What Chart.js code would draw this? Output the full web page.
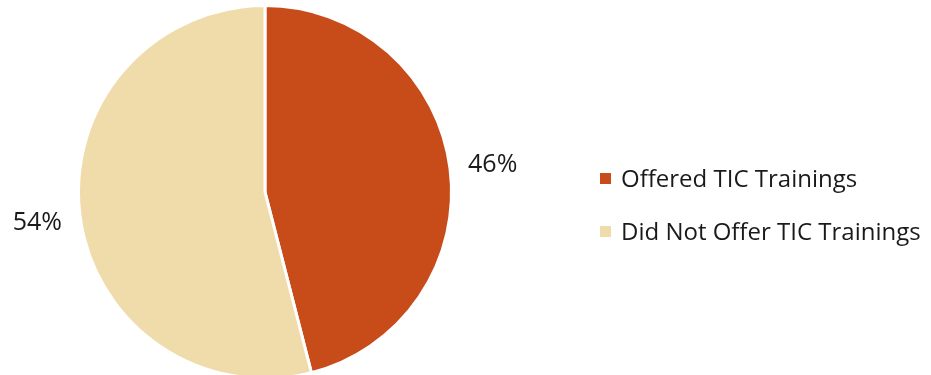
<!DOCTYPE html>
<html>
<head>
<meta charset="utf-8">
<script src="https://cdn.jsdelivr.net/npm/chart.js@4"></script>
<style>
  html, body { margin: 0; padding: 0; background: #ffffff; overflow: hidden; }
  #wrap { width: 931px; height: 375px; position: relative; overflow: hidden; }
</style>
</head>
<body>
<div id="wrap"><canvas id="c" width="931" height="380"></canvas></div>
<script>
const categories = ['Offered TIC Trainings', 'Did Not Offer TIC Trainings'];
const shares = [46, 54];
const sliceColors = ['#C84B1A', '#F0DCAA'];
const FONT = '"Open Sans", Lato, sans-serif';

// Percent labels placed just outside each slice, along its mid-angle
const outsideLabels = {
  id: 'outsideLabels',
  afterDatasetsDraw(chart) {
    const ctx = chart.ctx;
    const meta = chart.getDatasetMeta(0);
    ctx.save();
    ctx.font = '25px ' + FONT;
    ctx.fillStyle = '#1a1a1a';
    ctx.textAlign = 'center';
    ctx.textBaseline = 'alphabetic';
    meta.data.forEach((arc, i) => {
      const mid = (arc.startAngle + arc.endAngle) / 2;
      const d = arc.outerRadius + 43;
      ctx.fillText(shares[i] + '%', arc.x + Math.cos(mid) * d, arc.y + Math.sin(mid) * d + 9);
    });
    ctx.restore();
  }
};

// Legend to the right of the pie
const sideLegend = {
  id: 'sideLegend',
  afterDraw(chart) {
    const ctx = chart.ctx;
    ctx.save();
    ctx.font = '24px ' + FONT;
    ctx.textBaseline = 'alphabetic';
    ctx.textAlign = 'left';
    const x0 = 600, baselines = [187, 240];
    categories.forEach((name, i) => {
      ctx.fillStyle = sliceColors[i];
      ctx.fillRect(x0, baselines[i] - 14, 11, 11);
      ctx.fillStyle = '#1a1a1a';
      ctx.fillText(name, x0 + 21, baselines[i]);
    });
    ctx.restore();
  }
};

new Chart(document.getElementById('c'), {
  type: 'pie',
  data: {
    labels: categories,
    datasets: [{
      data: shares,
      backgroundColor: sliceColors,
      borderColor: '#ffffff',
      borderWidth: 3
    }]
  },
  options: {
    responsive: false,
    animation: false,
    layout: { padding: { left: 77, right: 478, top: 4, bottom: 0 } },
    plugins: { legend: { display: false }, tooltip: { enabled: false } }
  },
  plugins: [outsideLabels, sideLegend]
});
</script>
</body>
</html>
